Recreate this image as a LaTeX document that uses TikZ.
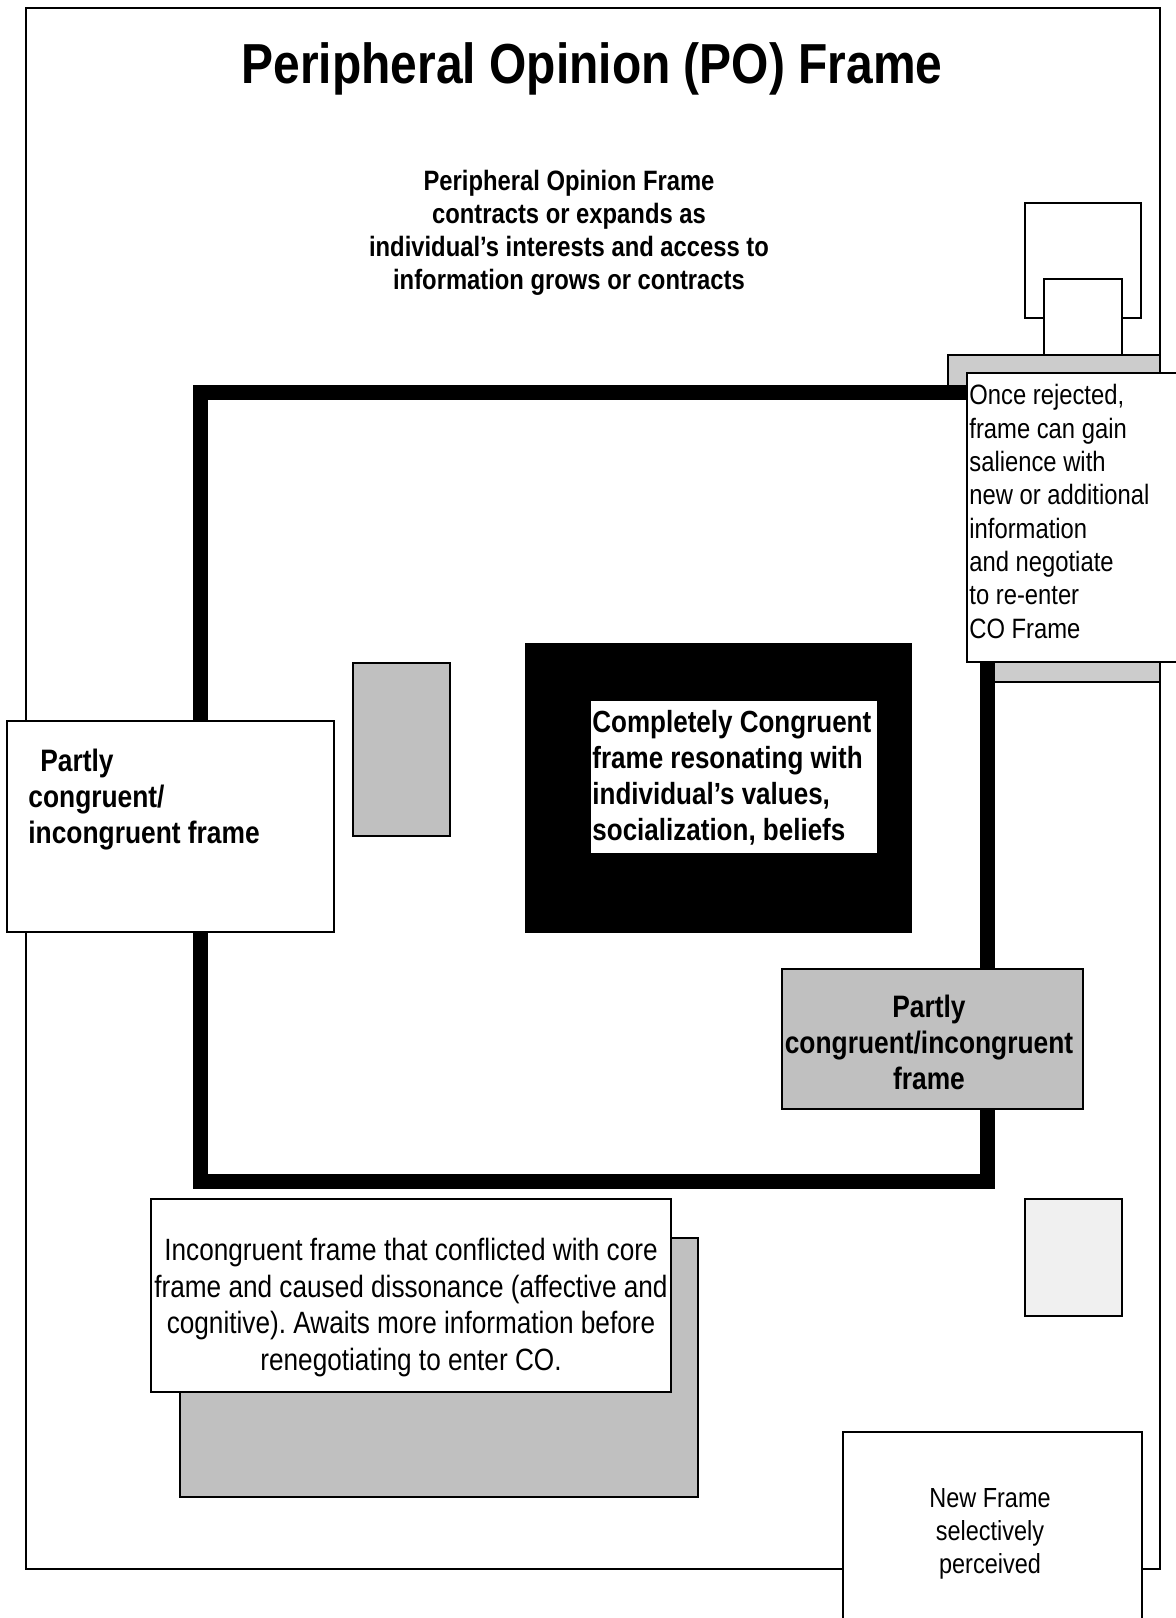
\documentclass[tikz,border=0pt]{standalone}
\usepackage{fontspec}
\setmainfont{Liberation Sans}[FakeStretch=0.85]
\frenchspacing
\definecolor{boxgray}{HTML}{C0C0C0}
\definecolor{tabgray}{HTML}{CCCCCC}
\definecolor{palegray}{HTML}{F0F0F0}
\tikzset{
  thinbox/.style={draw=black, line width=1pt, fill=white},
  corebox/.style={draw=black, line width=7.5pt, fill=white},
  boldtext/.style={inner sep=0pt, font=\bfseries\fontsize{15.5}{18}\selectfont},
  plaintext/.style={inner sep=0pt, font=\fontsize{14}{16.65}\selectfont}
}

\begin{document}
\begin{tikzpicture}[x=0.5pt, y=-0.5pt]
  \useasboundingbox (0,0) rectangle (1176,1618);
  \fill[white] (0,0) rectangle (1176,1618);

  % outer PO frame and the frames at its top right
  \draw[thinbox] (26,8) rectangle (1160,1569);
  \draw[thinbox] (1025,203) rectangle (1141,318);
  \draw[thinbox] (1044,279) rectangle (1122,380);
  \draw[thinbox, fill=tabgray] (948,355) rectangle (1160,682);

  % core opinion frame
  \draw[corebox] (200,392.5) rectangle (987,1181);

  % boxes
  \draw[thinbox] (967,373) rectangle (1185,662);
  \draw[thinbox, fill=boxgray] (353,663) rectangle (450,836);
  \fill[black] (525,643) rectangle (912,933);
  \fill[white] (591,701) rectangle (877,853);
  \draw[thinbox] (7,721) rectangle (334,932);
  \draw[thinbox, fill=boxgray] (782,969) rectangle (1083,1109);
  \draw[thinbox, fill=boxgray] (180,1238) rectangle (698,1497);
  \draw[thinbox] (151,1199) rectangle (671,1392);
  \draw[thinbox, fill=palegray] (1025,1199) rectangle (1122,1316);
  \draw[thinbox] (843,1432) rectangle (1142,1630);

  % texts (base = baseline of the last line)
  \node[inner sep=0pt, anchor=base, font=\bfseries\fontsize{28.2}{34}\selectfont] (title) at (592,83)
    {Peripheral Opinion (PO) Frame};
  \node[boldtext, anchor=base, align=center, font=\bfseries\fontsize{14}{16.4}\selectfont] (poinfo) at (569,289)
    {Peripheral Opinion Frame\\contracts or expands as\\individual’s interests and access to\\information grows or contracts};
  \node[plaintext, anchor=base west, align=left] (rejected) at (969,638)
    {Once rejected,\\frame can gain\\salience with\\new or additional\\information\\and negotiate\\to re-enter\\CO Frame};
  \node[boldtext, anchor=base west, align=left, font=\bfseries\fontsize{15.3}{18}\selectfont] (core) at (592,840)
    {Completely Congruent\\frame resonating with\\individual’s values,\\socialization, beliefs};
  \node[boldtext, anchor=base west, align=left] (partlyleft) at (28,843)
    {\hspace*{6pt}Partly\\congruent/\\incongruent frame};
  \node[boldtext, anchor=base, align=center] (partlyright) at (929,1089)
    {Partly\\congruent/incongruent\\frame};
  \node[plaintext, anchor=base, align=center, font=\fontsize{15.4}{18.2}\selectfont] (incongruent) at (411,1370)
    {Incongruent frame that conflicted with core\\frame and caused dissonance (affective and\\cognitive). Awaits more information before\\renegotiating to enter CO.};
  \node[plaintext, anchor=base, align=center, font=\fontsize{13.8}{16.5}\selectfont] (newframe) at (990,1573)
    {New Frame\\selectively\\perceived};
\end{tikzpicture}
\end{document}
